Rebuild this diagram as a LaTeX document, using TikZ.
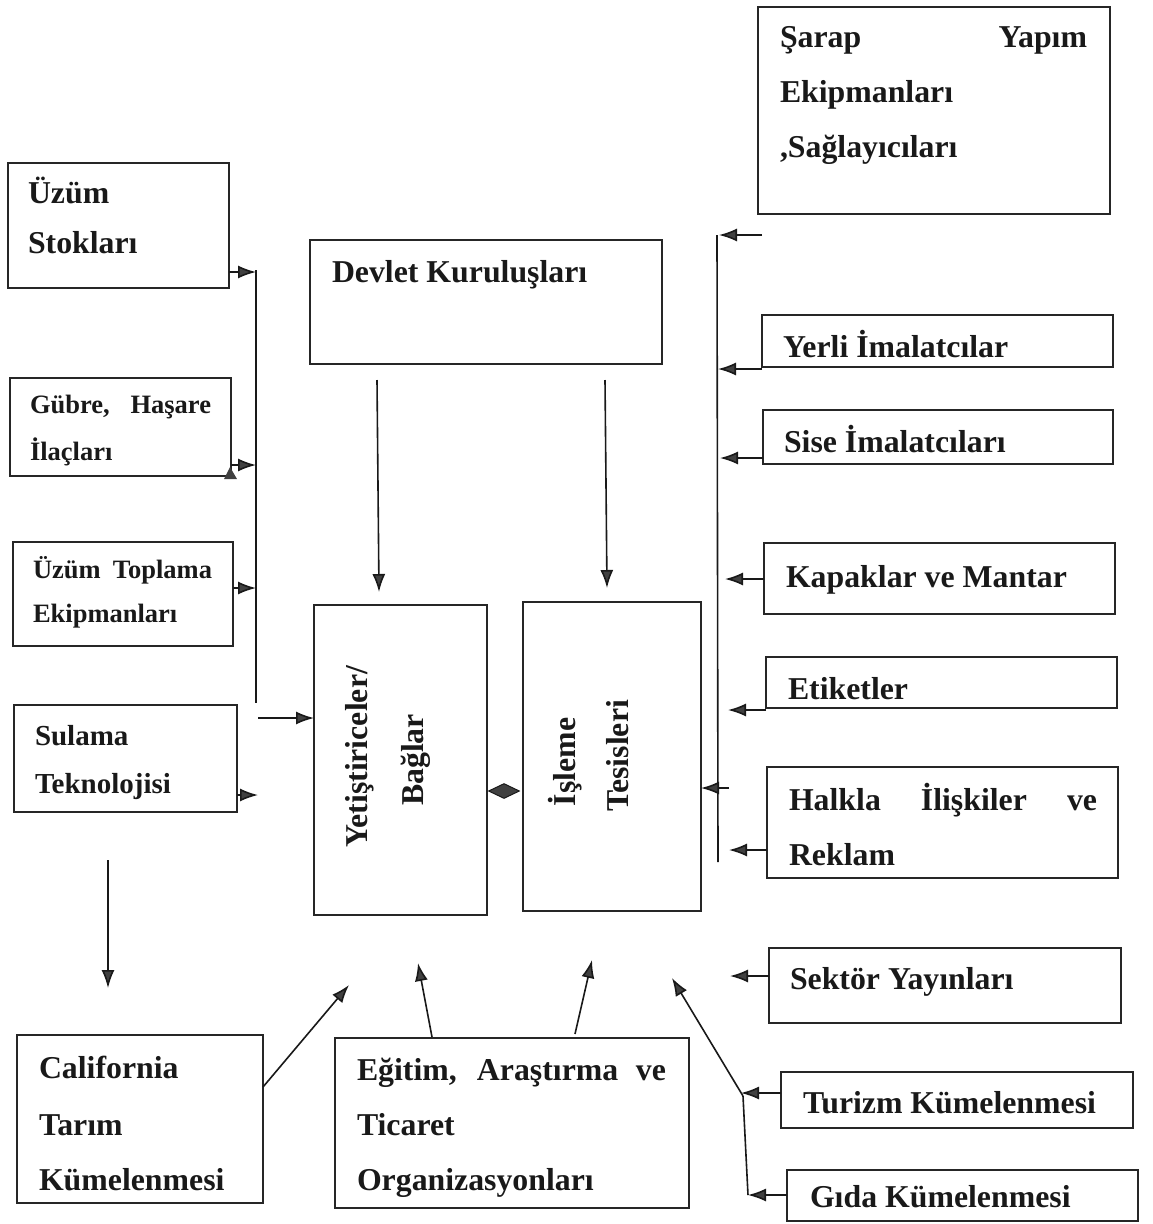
\documentclass[tikz,border=0pt]{standalone}
\usepackage{fontspec}
\setmainfont{Liberation Serif}
\usetikzlibrary{arrows.meta,shapes.geometric}
\newcommand\mybox[5]{\node[box,anchor=north west,minimum width={#4-#2},minimum height={#5-#3}] (#1) at (#2,#3) {};}
\newcommand\tx[4]{\node[txt] (#1) at (#2,#3) {#4};}
\newcommand\txs[4]{\node[txt,font=\fontsize{26.5}{30}\selectfont\bfseries] (#1) at (#2,#3) {#4};}
\begin{document}
\begin{tikzpicture}[x=1pt,y=-1pt,
  box/.style={draw=black!85,line width=1.7pt,rectangle,inner sep=0pt,outer sep=0pt},
  txt/.style={anchor=base west,inner sep=0pt,outer sep=0pt,text=black!90,font=\fontsize{31.8}{37}\selectfont\bfseries},
  rtxt/.style={txt,anchor=base,rotate=90},
  ln/.style={line width=1.6pt,draw=black!90},
  arr/.style={ln,-{Latex[length=18pt,width=13pt,fill=black!75]}}]
\useasboundingbox (0,0) rectangle (1152,1224);

% boxes
\mybox{sarap}{758}{7}{1110}{214}
\mybox{uzum}{8}{163}{229}{288}
\mybox{gubre}{10}{378}{231}{476}
\mybox{toplama}{13}{542}{233}{646}
\mybox{sulama}{14}{705}{237}{812}
\mybox{devlet}{310}{240}{662}{364}
\mybox{yet}{314}{605}{487}{915}
\mybox{isleme}{523}{602}{701}{911}
\mybox{yerli}{762}{315}{1113}{367}
\mybox{sise}{763}{410}{1113}{464}
\mybox{kapak}{764}{543}{1115}{614}
\mybox{etiket}{766}{657}{1117}{708}
\mybox{halkla}{767}{767}{1118}{878}
\mybox{sektor}{769}{948}{1121}{1023}
\mybox{turizm}{781}{1072}{1133}{1128}
\mybox{gida}{787}{1170}{1138}{1221}
\mybox{calif}{17}{1035}{263}{1203}
\mybox{egitim}{335}{1038}{689}{1208}

% texts
\tx{sarap1}{780}{47}{\makebox[307pt][s]{Şarap Yapım}}
\tx{sarap2}{780}{102}{Ekipmanları}
\tx{sarap3}{780}{157}{,Sağlayıcıları}
\tx{uzum1}{28}{203}{Üzüm}
\tx{uzum2}{28}{253}{Stokları}
\txs{gubre1}{30}{413}{\makebox[181pt][s]{Gübre, Haşare}}
\txs{gubre2}{30}{460}{İlaçları}
\txs{toplama1}{33}{578}{\makebox[179pt][s]{Üzüm Toplama}}
\txs{toplama2}{33}{622}{Ekipmanları}
\node[txt,font=\fontsize{29}{34}\selectfont\bfseries] (sulama1) at (35,745) {Sulama};
\node[txt,font=\fontsize{29}{34}\selectfont\bfseries] (sulama2) at (35,793) {Teknolojisi};
\tx{devlet1}{332}{282}{Devlet Kuruluşları}
\node[rtxt] (yet1) at (367,757) {Yetiştiriceler/};
\node[rtxt] (yet2) at (423,760) {Bağlar};
\node[rtxt] (isl1) at (575,762) {İşleme};
\node[rtxt] (isl2) at (628,756) {Tesisleri};
\tx{yerli1}{783}{357}{Yerli İmalatcılar}
\tx{sise1}{784}{452}{Sise İmalatcıları}
\tx{kapak1}{786}{587}{Kapaklar ve Mantar}
\tx{etiket1}{788}{699}{Etiketler}
\tx{halkla1}{789}{810}{\makebox[308pt][s]{Halkla İlişkiler ve}}
\tx{halkla2}{789}{865}{Reklam}
\tx{sektor1}{790}{989}{Sektör Yayınları}
\tx{turizm1}{803}{1113}{Turizm Kümelenmesi}
\tx{gida1}{810}{1207}{Gıda Kümelenmesi}
\tx{calif1}{39}{1078}{California}
\tx{calif2}{39}{1135}{Tarım}
\tx{calif3}{39}{1190}{Kümelenmesi}
\tx{egitim1}{357}{1080}{\makebox[309pt][s]{Eğitim, Araştırma ve}}
\tx{egitim2}{357}{1135}{Ticaret}
\tx{egitim3}{357}{1190}{Organizasyonları}

% diamond between the two central boxes
\node[diamond,draw=black!90,fill=black!75,line width=1pt,minimum width=31pt,minimum height=15pt,inner sep=0pt] (dia) at (504,791) {};

% left bus
\coordinate (lbtop) at (256,270);
\coordinate (lbbot) at (256,703);
\coordinate (lb1) at (256,272);
\coordinate (lb2) at (256,465);
\coordinate (lb3) at (256,588);
\coordinate (sul1) at (258,795);
\coordinate (yin) at (258,718);
\draw[ln] (lbtop) -- (lbbot);
\draw[arr] (uzum.east |- lb1) -- (lb1);
\draw[arr] (gubre.east |- lb2) -- (lb2);
\draw[arr] (toplama.east |- lb3) -- (lb3);
\draw[arr] (sulama.east |- sul1) -- (sul1);
\draw[arr] (yin) -- (yet.west |- yin);
\fill[black!75] (224,479) -- (237,479) -- (230,467) -- cycle;

% top arrows from Devlet
\coordinate (d1s) at (377,380);
\coordinate (d1e) at (379,592);
\coordinate (d2s) at (605,380);
\coordinate (d2e) at (607,588);
\draw[arr] (d1s) -- (d1e);
\draw[arr] (d2s) -- (d2e);

% right bus
\coordinate (rbtop) at (717,235);
\coordinate (rbbot) at (718,862);
\draw[ln] (rbtop) -- (rbbot);
\coordinate (rs0) at (762,235);
\coordinate (r0) at (719,235);
\coordinate (r1) at (718,369);
\coordinate (r2) at (720,458);
\coordinate (r3) at (725,579);
\coordinate (r4) at (728,710);
\coordinate (r5) at (729,850);
\coordinate (r6) at (729,788);
\draw[arr] (rs0) -- (r0);
\draw[arr] (yerli.west |- r1) -- (r1);
\draw[arr] (sise.west |- r2) -- (r2);
\draw[arr] (kapak.west |- r3) -- (r3);
\draw[arr] (etiket.west |- r4) -- (r4);
\draw[arr] (halkla.west |- r5) -- (r5);
\draw[arr] (r6) -- (isleme.east |- r6);

% lower right
\coordinate (r7) at (730,976);
\coordinate (r8) at (741,1093);
\coordinate (r9) at (748,1195);
\coordinate (tz) at (672,978);
\draw[arr] (sektor.west |- r7) -- (r7);
\draw[arr] (turizm.west |- r8) -- (r8);
\draw[arr] (gida.west |- r9) -- (r9);
\draw[ln] (r9) -- (743,1096);
\draw[arr] (743,1096) -- (tz);

% bottom left
\coordinate (ld1) at (108,860);
\coordinate (ld2) at (108,988);
\draw[arr] (ld1) -- (ld2);
\coordinate (cs) at (263,1087);
\coordinate (ce) at (349,985);
\draw[arr] (calif.east |- cs) -- (ce);
\coordinate (e1s) at (432,1037);
\coordinate (e1e) at (418,963);
\coordinate (e2s) at (575,1034);
\coordinate (e2e) at (592,960);
\draw[arr] (e1s) -- (e1e);
\draw[arr] (e2s) -- (e2e);
\end{tikzpicture}
\end{document}
